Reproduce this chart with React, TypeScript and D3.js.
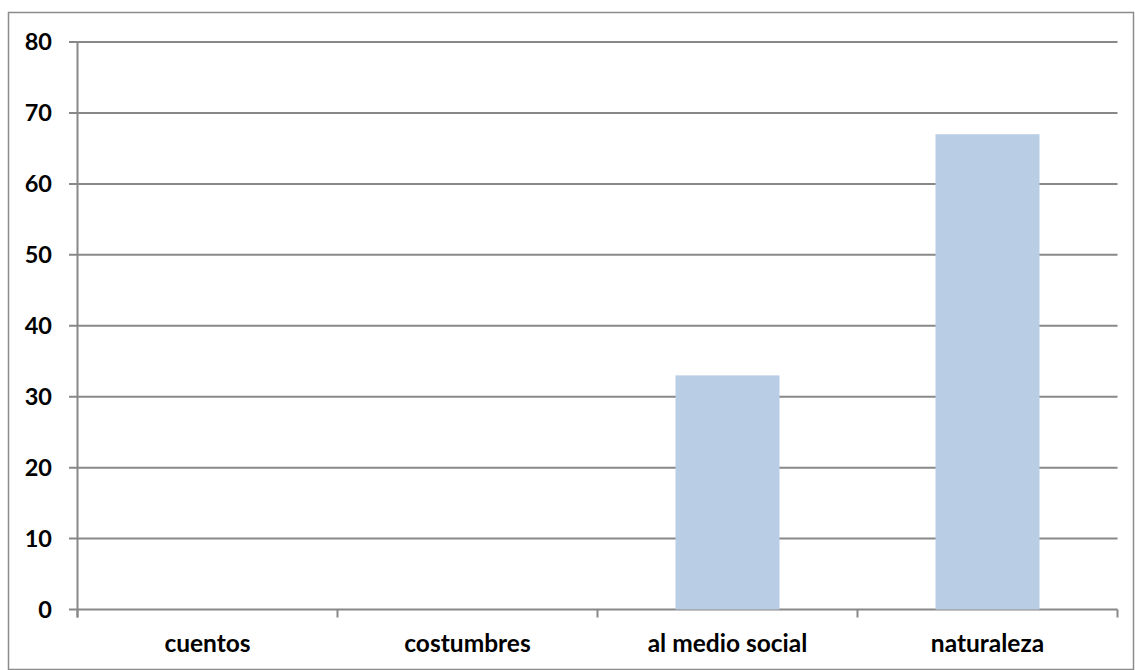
import React from "react";
import * as d3 from "d3";

const categories = ["cuentos", "costumbres", "al medio social", "naturaleza"];
const values = [0, 0, 33, 67];
const yTicks = [0, 10, 20, 30, 40, 50, 60, 70, 80];

export default function App() {
  const W = 1135, H = 670;
  const left = 77.5, right = 1117.5, top = 42, bottom = 609.5;
  const x = d3.scaleBand<string>().domain(categories).range([left, right]).paddingInner(0).paddingOuter(0);
  const y = d3.scaleLinear().domain([0, 80]).range([bottom, top]);
  const bw = x.bandwidth() * 0.4;
  const gridColor = "#888888";
  const font = "Lato, 'Noto Sans', sans-serif";
  return (
    <svg width={W} height={H} style={{ position: "absolute", left: 0, top: 0 }}>
      <rect x={0} y={0} width={W} height={H} fill="#fff" />
      <rect x={8.5} y={12.5} width={1125} height={657} fill="none" stroke="#8c8c8c" strokeWidth={1.5} />
      {yTicks.map((t) => (
        <g key={t}>
          <line x1={69} x2={right} y1={y(t)} y2={y(t)} stroke={gridColor} strokeWidth={2} />
          <text x={52} y={y(t)} dy="0.36em" textAnchor="end" fontFamily={font} fontWeight="bold" fontSize={23.5} fill="#000">{t}</text>
        </g>
      ))}
      {categories.map((c, i) => (
        <rect key={c} x={x(c)! + (x.bandwidth() - bw) / 2} y={y(values[i])} width={bw} height={y(0) - y(values[i])} fill="#B9CDE5" />
      ))}
      <line x1={left} x2={left} y1={top} y2={bottom + 8} stroke={gridColor} strokeWidth={2} />
      {[...categories.map((c) => x(c)!), right].map((p, i) => (
        <line key={i} x1={p} x2={p} y1={bottom} y2={bottom + 8} stroke={gridColor} strokeWidth={2} />
      ))}
      {categories.map((c) => (
        <text key={c} x={x(c)! + x.bandwidth() / 2} y={643} dy="0.35em" textAnchor="middle" fontFamily={font} fontWeight="bold" fontSize={24.5} fill="#000">{c}</text>
      ))}
    </svg>
  );
}
